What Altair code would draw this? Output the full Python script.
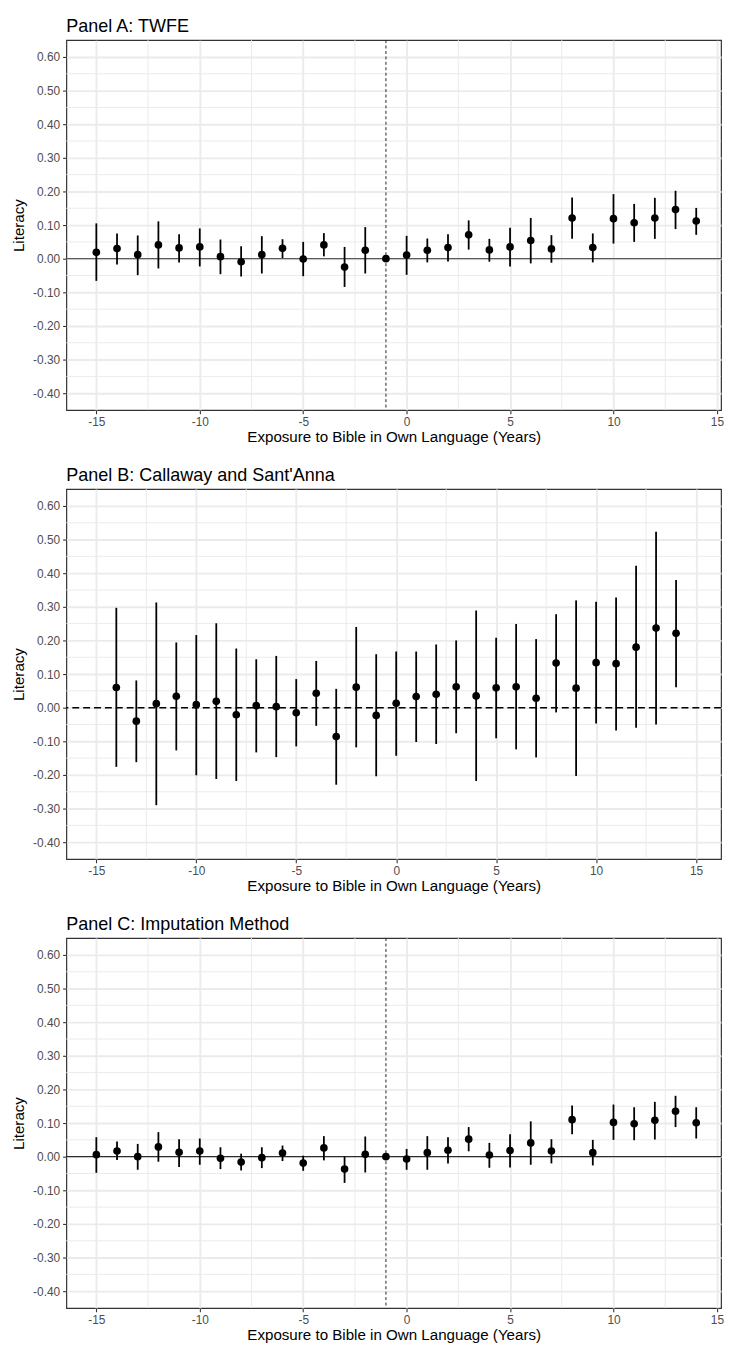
import altair as alt
import pandas as pd

# ---------------- data ----------------
X_A = list(range(-15, 15))
EST_A = [0.019, 0.030, 0.012, 0.041, 0.032, 0.035, 0.006, -0.009, 0.012, 0.031,
         -0.001, 0.041, -0.025, 0.025, 0.0,
         0.011, 0.025, 0.033, 0.071, 0.026, 0.035, 0.054, 0.029, 0.121, 0.033,
         0.119, 0.107, 0.121, 0.146, 0.112]
HI_A = [0.105, 0.075, 0.069, 0.111, 0.073, 0.090, 0.057, 0.037, 0.067, 0.058,
        0.050, 0.076, 0.035, 0.094, None,
        0.068, 0.060, 0.073, 0.114, 0.059, 0.092, 0.121, 0.070, 0.182, 0.075,
        0.192, 0.163, 0.181, 0.202, 0.151]
LO_A = [-0.066, -0.017, -0.049, -0.029, -0.011, -0.023, -0.046, -0.053, -0.044, 0.002,
        -0.052, 0.007, -0.084, -0.044, None,
        -0.048, -0.011, -0.008, 0.027, -0.009, -0.023, -0.014, -0.012, 0.059, -0.011,
        0.045, 0.050, 0.059, 0.088, 0.071]

X_B = list(range(-14, 15))
EST_B = [0.060, -0.040, 0.012, 0.034, 0.009, 0.019, -0.021, 0.006, 0.003, -0.015,
         0.043, -0.086, 0.061, -0.023,
         0.013, 0.033, 0.040, 0.062, 0.035, 0.059, 0.062, 0.028, 0.133, 0.058,
         0.134, 0.131, 0.180, 0.237, 0.221]
HI_B = [0.297, 0.081, 0.313, 0.194, 0.216, 0.251, 0.176, 0.144, 0.154, 0.085,
        0.139, 0.056, 0.240, 0.159,
        0.167, 0.167, 0.188, 0.200, 0.289, 0.208, 0.249, 0.204, 0.278, 0.319,
        0.315, 0.328, 0.422, 0.523, 0.380]
LO_B = [-0.176, -0.162, -0.290, -0.127, -0.201, -0.212, -0.218, -0.133, -0.147, -0.115,
        -0.054, -0.229, -0.118, -0.204,
        -0.143, -0.102, -0.108, -0.076, -0.218, -0.091, -0.124, -0.148, -0.014, -0.203,
        -0.047, -0.068, -0.060, -0.050, 0.061]

X_C = list(range(-15, 15))
EST_C = [0.006, 0.017, 0.0, 0.029, 0.013, 0.017, -0.005, -0.016, -0.003, 0.011,
         -0.019, 0.026, -0.037, 0.007, 0.0,
         -0.007, 0.012, 0.019, 0.052, 0.005, 0.018, 0.041, 0.017, 0.110, 0.012,
         0.102, 0.098, 0.108, 0.135, 0.101]
HI_C = [0.058, 0.045, 0.038, 0.073, 0.052, 0.054, 0.028, 0.009, 0.028, 0.033,
        0.003, 0.061, 0.0, 0.060, None,
        0.023, 0.061, 0.058, 0.088, 0.041, 0.067, 0.105, 0.052, 0.152, 0.050,
        0.155, 0.147, 0.163, 0.181, 0.147]
LO_C = [-0.048, -0.010, -0.039, -0.015, -0.031, -0.024, -0.037, -0.041, -0.034, -0.013,
        -0.042, -0.011, -0.078, -0.047, None,
        -0.039, -0.039, -0.020, 0.016, -0.033, -0.032, -0.024, -0.020, 0.067, -0.026,
        0.050, 0.049, 0.051, 0.088, 0.054]

TITLES = ["Panel A: TWFE", "Panel B: Callaway and Sant'Anna", "Panel C: Imputation Method"]
X_TITLE = "Exposure to Bible in Own Language (Years)"
Y_TITLE = "Literacy"
X_TICKS = [-15, -10, -5, 0, 5, 10, 15]
X_MINOR = [-12.5, -7.5, -2.5, 2.5, 7.5, 12.5]
Y_TICKS = [-0.4, -0.3, -0.2, -0.1, 0.0, 0.1, 0.2, 0.3, 0.4, 0.5, 0.6]
Y_MINOR = [-0.35, -0.25, -0.15, -0.05, 0.05, 0.15, 0.25, 0.35, 0.45, 0.55]
Y_DOMAIN = [-0.45, 0.65]

FONT = "Liberation Sans"
W, H = 662, 374


def panel(title, xs, est, lo, hi, xdomain, zero_kind, vline):
    df = pd.DataFrame({"x": xs, "est": est, "lo": lo, "hi": hi})
    xscale = alt.Scale(domain=xdomain, nice=False, zero=False)
    yscale = alt.Scale(domain=Y_DOMAIN, nice=False, zero=False)
    xaxis = alt.Axis(values=X_TICKS, title=X_TITLE,
                     labelExpr="datum.value < 0 ? '-' + abs(datum.value) : '' + datum.value")
    yaxis = alt.Axis(values=Y_TICKS, title=Y_TITLE,
                     labelExpr="datum.value < 0 ? '-' + format(abs(datum.value), '.2f') : format(datum.value, '.2f')")

    def X(f):
        return alt.X(f, type="quantitative", scale=xscale, axis=xaxis)

    def Y(f):
        return alt.Y(f, type="quantitative", scale=yscale, axis=yaxis)

    minor_y = alt.Chart(pd.DataFrame({"v": Y_MINOR})).mark_rule(
        color="#EBEBEB", strokeWidth=1.0).encode(y=Y("v"))
    minor_x = alt.Chart(pd.DataFrame({"v": X_MINOR})).mark_rule(
        color="#EBEBEB", strokeWidth=1.0).encode(x=X("v"))

    if zero_kind == "grey":
        zero = alt.Chart(pd.DataFrame({"v": [0.0]})).mark_rule(
            color="#5A5A5A", strokeWidth=1.3).encode(y=Y("v"))
    elif zero_kind == "dash":
        zero = alt.Chart(pd.DataFrame({"v": [0.0]})).mark_rule(
            color="#000000", strokeWidth=1.5, strokeDash=[7, 4]).encode(y=Y("v"))
    else:
        zero = alt.Chart(pd.DataFrame({"v": [0.0]})).mark_rule(
            color="#000000", strokeWidth=1.0).encode(y=Y("v"))

    layers = [minor_y, minor_x, zero]
    if vline is not None:
        layers.append(alt.Chart(pd.DataFrame({"v": [vline]})).mark_rule(
            color="#222222", strokeWidth=1.0, strokeDash=[3, 2.5]).encode(x=X("v")))

    bars = alt.Chart(df).mark_rule(color="black", strokeWidth=1.8).encode(
        x=X("x"), y=Y("lo"), y2=alt.Y2("hi"))
    pts = alt.Chart(df).mark_circle(color="black", size=60, opacity=1).encode(
        x=X("x"), y=Y("est"))
    layers += [bars, pts]

    return alt.layer(*layers).properties(
        width=W, height=H,
        title=alt.TitleParams(title, anchor="start", frame="group"))


pA = panel(TITLES[0], X_A, EST_A, LO_A, HI_A, [-16.45, 15.2], "grey", -1)
pB = panel(TITLES[1], X_B, EST_B, LO_B, HI_B, [-16.5, 16.25], "dash", None)
pC = panel(TITLES[2], X_C, EST_C, LO_C, HI_C, [-16.45, 15.2], "black", -1)

chart = alt.vconcat(pA, pB, pC, spacing=19).properties(
    padding={"left": 3, "top": 0, "right": 0, "bottom": 0}
).configure_view(
    stroke="#333333", strokeWidth=1.2
).configure_axis(
    domain=False,
    grid=True, gridColor="#EBEBEB", gridWidth=1.9,
    ticks=True, tickColor="#333333", tickSize=3.8, tickWidth=1.1,
    labelFont=FONT, labelFontSize=12, labelColor="#4D4D4D", labelPadding=3,
    titleFont=FONT, titleFontSize=15.3, titleColor="black", titleFontWeight="normal",
).configure_axisY(
    titlePadding=6
).configure_axisX(
    titlePadding=2, labelOverlap=False
).configure_title(
    font=FONT, fontSize=18.2, fontWeight="normal", color="black", offset=4
)

chart.save("out.html", embed_options={"renderer": "svg", "actions": False})
